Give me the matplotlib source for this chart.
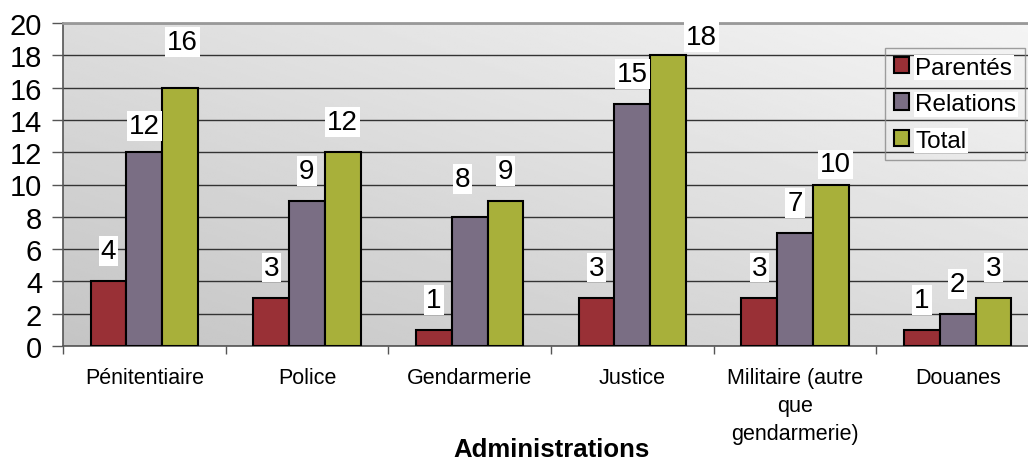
import numpy as np
import matplotlib.pyplot as plt

categories = ["Pénitentiaire", "Police", "Gendarmerie", "Justice",
              "Militaire (autre\nque\ngendarmerie)", "Douanes"]
parentes = [4, 3, 1, 3, 3, 1]
relations = [12, 9, 8, 15, 7, 2]
total = [16, 12, 9, 18, 10, 3]

series = [("Parentés", parentes, "#993036"),
          ("Relations", relations, "#7a6e84"),
          ("Total", total, "#a8b03a")]

# label offsets in pixels (dx, dy above bar top), default (0, 30)
label_offsets = {(1, 0): (0, 26), (2, 0): (2, 46), (2, 3): (33, 18),
                 (2, 4): (5, 20), (1, 2): (-7, 38)}

plt.rcParams['font.family'] = ['Liberation Sans', 'DejaVu Sans']

fig = plt.figure(figsize=(10.28, 4.64), dpi=100)
ax = fig.add_axes([63 / 1028, 117 / 464, 976 / 1028, 323 / 464])

# gradient background
gx, gy = np.meshgrid(np.linspace(0, 1, 200), np.linspace(0, 1, 200))
grad = 0.77 + 0.19 * (gx + gy) / 2
ax.imshow(grad, cmap='gray', vmin=0, vmax=1, origin='lower',
          extent=[0, 1, 0, 1], transform=ax.transAxes, aspect='auto', zorder=0)

x = np.arange(len(categories))
w = 0.22
for i, (name, vals, col) in enumerate(series):
    xs = x + (i - 1) * w
    ax.bar(xs, vals, w, color=col, edgecolor='black', linewidth=1.5,
           label=name, zorder=3)
    for j, v in enumerate(vals):
        dx, dy = label_offsets.get((i, j), (0, 30))
        ax.annotate(str(v), (xs[j], v), xytext=(dx * 0.72, dy * 0.72),
                    textcoords='offset points', ha='center', va='center',
                    fontsize=20, zorder=5,
                    bbox=dict(facecolor='white', edgecolor='none', pad=1.5))

ax.set_xlim(-0.5, len(categories) - 0.5)
ax.set_ylim(0, 20)
ax.set_yticks(np.arange(0, 21, 2))
ax.yaxis.grid(True, color='#333333', linewidth=1, zorder=1)
ax.set_axisbelow(True)
ax.tick_params(axis='y', labelsize=21, length=8, width=1, color='#555555', pad=7)

ax.set_xticks(x)
ax.set_xticklabels(categories, fontsize=15.5, linespacing=1.45, va='top')
ax.set_xticks(np.arange(-0.5, len(categories)), minor=True)
ax.tick_params(axis='x', which='major', length=0, pad=15)
ax.tick_params(axis='x', which='minor', length=6, width=1, color='#555555')
ax.set_xlabel("Administrations", fontsize=18.5, fontweight='bold', va='center')
ax.xaxis.set_label_coords(0.5, -103 / 323)

for s in ['left', 'bottom']:
    ax.spines[s].set_color('#555555')
    ax.spines[s].set_linewidth(1.2)
ax.spines['top'].set_color('#999999')
ax.spines['top'].set_linewidth(2)
ax.spines['right'].set_visible(False)

leg = ax.legend(loc='upper left', bbox_to_anchor=(822 / 976, 298 / 323),
                fontsize=17.5, frameon=True, fancybox=False,
                edgecolor='#888888', handlelength=0.65, handleheight=0.65,
                handletextpad=0.25, labelspacing=0.6, borderpad=0.35,
                borderaxespad=0)
leg.get_frame().set_facecolor('none')
leg.get_frame().set_linewidth(1)
for t in leg.get_texts():
    t.set_bbox(dict(facecolor='white', edgecolor='none', pad=1))
for h in leg.legend_handles:
    h.set_edgecolor('black')
    h.set_linewidth(1.5)

fig.savefig('out.png', dpi=100)
